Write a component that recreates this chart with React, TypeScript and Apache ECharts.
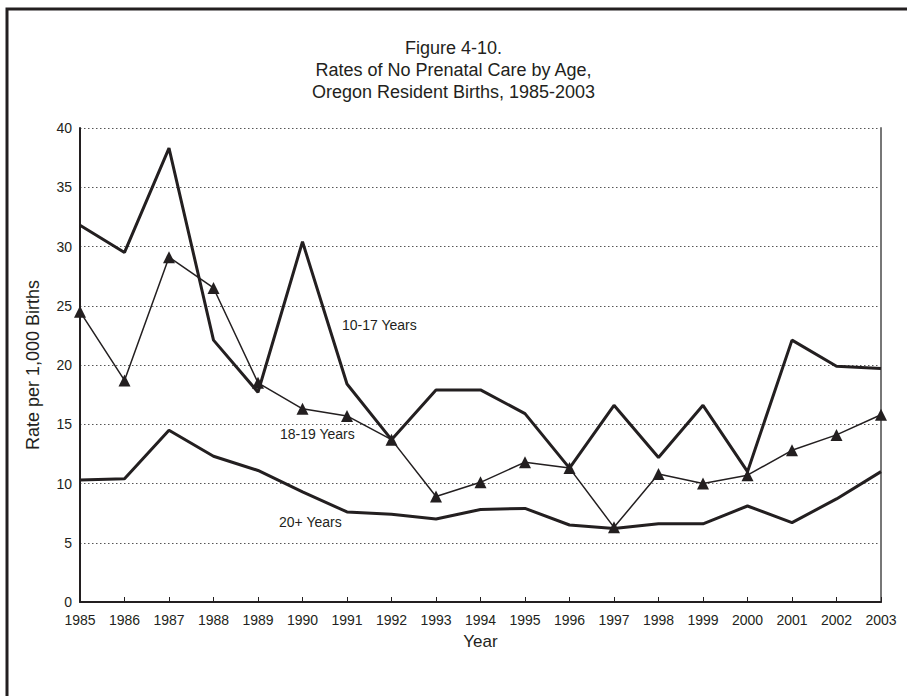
import React, { useEffect, useRef } from "react";
import * as echarts from "echarts";

const years = ["1985","1986","1987","1988","1989","1990","1991","1992","1993","1994","1995","1996","1997","1998","1999","2000","2001","2002","2003"];
const age10to17 = [31.8, 29.5, 38.3, 22.1, 17.7, 30.4, 18.4, 13.7, 17.9, 17.9, 15.9, 11.3, 16.6, 12.2, 16.6, 11.0, 22.1, 19.9, 19.7];
const age18to19 = [24.5, 18.7, 29.1, 26.5, 18.5, 16.3, 15.7, 13.7, 8.9, 10.1, 11.8, 11.3, 6.3, 10.8, 10.0, 10.7, 12.8, 14.1, 15.8];
const age20plus = [10.3, 10.4, 14.5, 12.3, 11.1, 9.3, 7.6, 7.4, 7.0, 7.8, 7.9, 6.5, 6.2, 6.6, 6.6, 8.1, 6.7, 8.7, 11.0];
const titleLines = ["Figure 4-10.", "Rates of No Prenatal Care by Age,", "Oregon Resident Births, 1985-2003"];
const seriesLabels = ["10-17 Years", "18-19 Years", "20+ Years"];

const FONT = "'Liberation Sans', Arial, sans-serif";
const INK = "#231f20";

export default function App() {
  const ref = useRef<HTMLDivElement>(null);
  useEffect(() => {
    document.body.style.margin = "0";
    const chart = echarts.init(ref.current!, null, { renderer: "svg" });
    chart.setOption({
      animation: false,
      backgroundColor: "#ffffff",
      textStyle: { fontFamily: FONT, color: INK },
      title: {
        text: titleLines.join("\n"),
        left: "center",
        top: 32,
        textStyle: { fontFamily: FONT, fontSize: 18, fontWeight: "normal", lineHeight: 22, color: INK },
      },
      grid: { left: 80, right: 26, top: 128, bottom: 94 },
      xAxis: {
        type: "category",
        data: years,
        boundaryGap: false,
        name: "Year",
        nameLocation: "middle",
        nameGap: 31,
        nameTextStyle: { fontFamily: FONT, fontSize: 17, color: INK },
        axisLine: { lineStyle: { color: INK, width: 2 } },
        axisTick: { inside: true, length: 5, lineStyle: { color: INK, width: 1 }, interval: 0 },
        axisLabel: { fontFamily: FONT, fontSize: 14, color: INK, margin: 11, interval: 0 },
        splitLine: { show: false },
      },
      yAxis: [
        {
          type: "value",
          min: 0,
          max: 40,
          interval: 5,
          name: "Rate per 1,000 Births",
          nameLocation: "middle",
          nameGap: 38,
          nameTextStyle: { fontFamily: FONT, fontSize: 18, color: INK },
          axisLine: { show: true, lineStyle: { color: INK, width: 2 } },
          axisTick: { show: false },
          axisLabel: { fontFamily: FONT, fontSize: 14, color: INK, margin: 8 },
          splitLine: { show: true, lineStyle: { color: "#555555", type: [1.5, 2.5], width: 1 } },
        },
        {
          type: "value",
          min: 0,
          max: 40,
          interval: 5,
          position: "right",
          axisLine: { show: true, lineStyle: { color: "#777777", width: 2 } },
          axisTick: { show: false },
          axisLabel: { show: false },
          splitLine: { show: false },
        },
      ],
      series: [
        {
          name: seriesLabels[0],
          type: "line",
          data: age10to17,
          showSymbol: false,
          symbol: "none",
          lineStyle: { color: INK, width: 3 },
          z: 3,
        },
        {
          name: seriesLabels[1],
          type: "line",
          data: age18to19,
          symbol: "triangle",
          symbolSize: 12,
          itemStyle: { color: INK },
          lineStyle: { color: INK, width: 1.5 },
          z: 4,
        },
        {
          name: seriesLabels[2],
          type: "line",
          data: age20plus,
          showSymbol: false,
          symbol: "none",
          lineStyle: { color: INK, width: 3 },
          z: 3,
        },
      ],
      graphic: [
        {
          type: "rect",
          shape: { x: 7, y: 9, width: 960, height: 760 },
          style: { fill: "none", stroke: INK, lineWidth: 3 },
          z: 10,
        },
        {
          type: "text",
          x: 342,
          y: 325,
          style: { text: seriesLabels[0], fontFamily: FONT, fontSize: 14, fill: INK, textVerticalAlign: "middle" },
        },
        {
          type: "text",
          x: 280,
          y: 434,
          style: { text: seriesLabels[1], fontFamily: FONT, fontSize: 14, fill: INK, textVerticalAlign: "middle" },
        },
        {
          type: "text",
          x: 279,
          y: 522,
          style: { text: seriesLabels[2], fontFamily: FONT, fontSize: 14, fill: INK, textVerticalAlign: "middle" },
        },
      ],
    });
    return () => chart.dispose();
  }, []);
  return <div ref={ref} style={{ width: 907, height: 696 }} />;
}
